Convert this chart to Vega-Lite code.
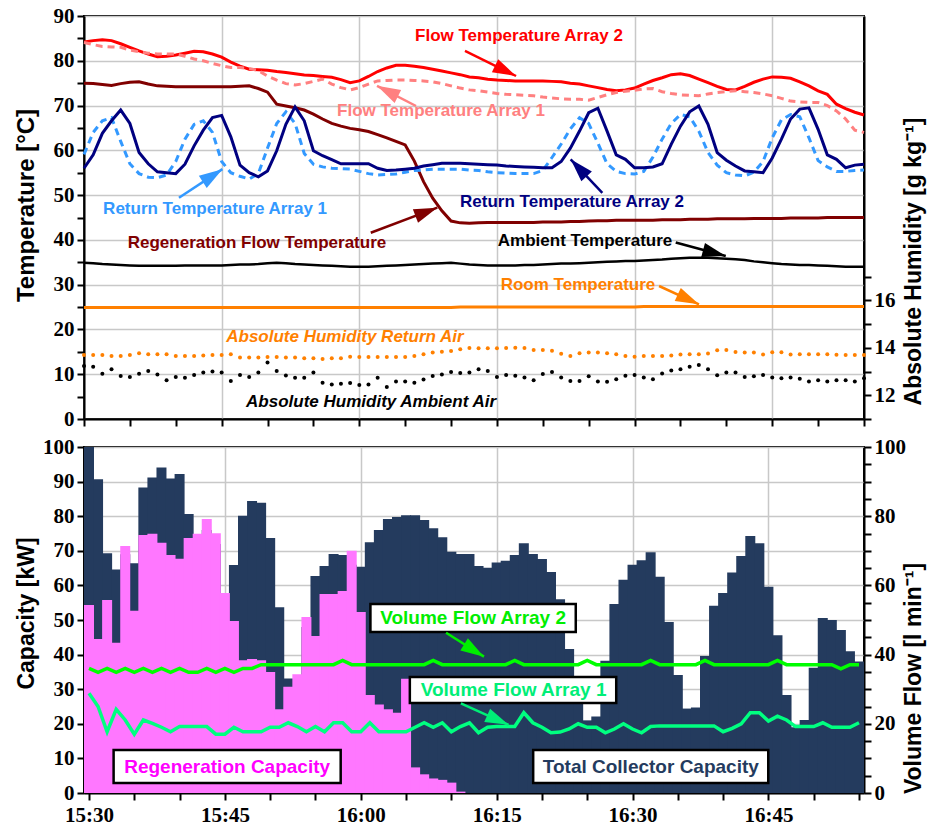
{
 "$schema": "https://vega.github.io/schema/vega-lite/v6.json",
 "padding": {"left": 13, "top": 4, "right": 2, "bottom": 2},
 "background": "white",
 "spacing": 5,
 "config": {
  "view": {"stroke": "black", "strokeWidth": 2},
  "font": "Liberation Sans",
  "axis": {
   "domainColor": "black", "domainWidth": 2,
   "tickColor": "black", "tickWidth": 2, "tickSize": 7,
   "labelFont": "Liberation Sans Narrow", "labelFontWeight": "bold", "labelFontSize": 21, "labelColor": "black", "labelPadding": 3,
   "titleFont": "Liberation Sans", "titleFontWeight": "bold", "titleFontSize": 23, "titleColor": "black",
   "gridColor": "#c8c8c8", "gridWidth": 1.5
  }
 },
 "datasets": {
  "d": [
   {"t":"2024-06-01T15:30:00","tc":100,"rc":54.3,"vf1":28.8,"vf2":36.0,"ft2":84.2,"ft1":84.1,"rft":75.0,"rt2":56.0,"rt1":59.1,"amb":34.9,"room":24.9,"ahr":13.70,"aha":13.24},
   {"t":"2024-06-01T15:31:00","tc":90.7,"rc":44.5,"vf1":25.0,"vf2":34.9,"ft2":84.5,"ft1":83.6,"rft":74.9,"rt2":59.0,"rt1":64.0,"amb":34.8,"room":24.9,"ahr":13.70,"aha":13.2},
   {"t":"2024-06-01T15:32:00","tc":69.3,"rc":55.8,"vf1":17.7,"vf2":36.0,"ft2":84.7,"ft1":83.2,"rft":74.7,"rt2":63.8,"rt1":66.6,"amb":34.6,"room":24.9,"ahr":13.70,"aha":12.91},
   {"t":"2024-06-01T15:33:00","tc":64.6,"rc":43.4,"vf1":24.2,"vf2":34.9,"ft2":84.5,"ft1":83.1,"rft":74.5,"rt2":66.6,"rt1":67.3,"amb":34.5,"room":24.9,"ahr":13.66,"aha":13.1},
   {"t":"2024-06-01T15:34:00","tc":69.0,"rc":71.4,"vf1":21.1,"vf2":36.0,"ft2":83.8,"ft1":83.0,"rft":74.9,"rt2":69.0,"rt1":62.0,"amb":34.4,"room":24.9,"ahr":13.66,"aha":12.81},
   {"t":"2024-06-01T15:35:00","tc":66.4,"rc":52.7,"vf1":17.0,"vf2":34.9,"ft2":83.0,"ft1":82.4,"rft":75.2,"rt2":66.0,"rt1":57.0,"amb":34.3,"room":24.9,"ahr":13.70,"aha":12.77},
   {"t":"2024-06-01T15:36:00","tc":88.3,"rc":74.6,"vf1":21.1,"vf2":36.0,"ft2":82.2,"ft1":82.0,"rft":75.3,"rt2":59.5,"rt1":54.8,"amb":34.2,"room":24.9,"ahr":13.77,"aha":12.91},
   {"t":"2024-06-01T15:37:00","tc":91.2,"rc":74.9,"vf1":20.1,"vf2":34.9,"ft2":81.5,"ft1":81.7,"rft":74.8,"rt2":57.0,"rt1":54.0,"amb":34.2,"room":24.9,"ahr":13.73,"aha":13.03},
   {"t":"2024-06-01T15:38:00","tc":94.1,"rc":72.3,"vf1":19.0,"vf2":36.0,"ft2":80.9,"ft1":81.5,"rft":74.4,"rt2":55.2,"rt1":53.9,"amb":34.2,"room":24.9,"ahr":13.73,"aha":12.88},
   {"t":"2024-06-01T15:39:00","tc":90.9,"rc":68.8,"vf1":17.7,"vf2":34.9,"ft2":81.0,"ft1":81.5,"rft":74.3,"rt2":55.0,"rt1":54.5,"amb":34.2,"room":24.9,"ahr":13.73,"aha":12.63},
   {"t":"2024-06-01T15:40:00","tc":92.2,"rc":67.7,"vf1":19.2,"vf2":36.0,"ft2":81.3,"ft1":81.5,"rft":74.2,"rt2":54.8,"rt1":57.5,"amb":34.2,"room":24.9,"ahr":13.66,"aha":12.77},
   {"t":"2024-06-01T15:41:00","tc":80.6,"rc":73.7,"vf1":19.2,"vf2":34.9,"ft2":81.7,"ft1":81.0,"rft":74.2,"rt2":56.9,"rt1":62.5,"amb":34.3,"room":24.9,"ahr":13.66,"aha":12.74},
   {"t":"2024-06-01T15:42:00","tc":72.0,"rc":74.9,"vf1":19.2,"vf2":34.9,"ft2":82.1,"ft1":80.4,"rft":74.2,"rt2":61.0,"rt1":65.8,"amb":34.3,"room":24.9,"ahr":13.66,"aha":12.86},
   {"t":"2024-06-01T15:43:00","tc":76.0,"rc":79.2,"vf1":19.2,"vf2":36.0,"ft2":82.0,"ft1":80.0,"rft":74.2,"rt2":64.5,"rt1":66.6,"amb":34.3,"room":24.9,"ahr":13.68,"aha":12.96},
   {"t":"2024-06-01T15:44:00","tc":72.0,"rc":75.1,"vf1":17.0,"vf2":34.9,"ft2":81.5,"ft1":79.4,"rft":74.2,"rt2":67.3,"rt1":64.0,"amb":34.3,"room":24.9,"ahr":13.70,"aha":13.0},
   {"t":"2024-06-01T15:45:00","tc":55.0,"rc":57.8,"vf1":17.0,"vf2":36.0,"ft2":80.8,"ft1":78.9,"rft":74.2,"rt2":67.8,"rt1":57.5,"amb":34.3,"room":24.9,"ahr":13.70,"aha":12.96},
   {"t":"2024-06-01T15:46:00","tc":65.9,"rc":49.7,"vf1":19.0,"vf2":34.9,"ft2":79.7,"ft1":78.5,"rft":74.2,"rt2":63.0,"rt1":55.0,"amb":34.4,"room":24.9,"ahr":13.73,"aha":12.6},
   {"t":"2024-06-01T15:47:00","tc":80.1,"rc":38.4,"vf1":17.7,"vf2":36.0,"ft2":78.8,"ft1":78.5,"rft":74.3,"rt2":56.7,"rt1":54.2,"amb":34.5,"room":24.9,"ahr":13.59,"aha":12.86},
   {"t":"2024-06-01T15:48:00","tc":84.4,"rc":38.7,"vf1":17.7,"vf2":36.0,"ft2":78.1,"ft1":78.3,"rft":74.4,"rt2":55.0,"rt1":53.6,"amb":34.5,"room":24.9,"ahr":13.59,"aha":12.77},
   {"t":"2024-06-01T15:49:00","tc":83.9,"rc":38.4,"vf1":17.7,"vf2":37.1,"ft2":78.0,"ft1":77.8,"rft":73.8,"rt2":54.1,"rt1":54.8,"amb":34.6,"room":24.9,"ahr":13.59,"aha":12.96},
   {"t":"2024-06-01T15:50:00","tc":73.7,"rc":35.0,"vf1":19.0,"vf2":37.1,"ft2":77.9,"ft1":76.6,"rft":73.0,"rt2":55.4,"rt1":60.5,"amb":34.8,"room":24.9,"ahr":13.62,"aha":13.38},
   {"t":"2024-06-01T15:51:00","tc":53.7,"rc":24.2,"vf1":19.0,"vf2":37.1,"ft2":77.6,"ft1":75.7,"rft":70.3,"rt2":59.9,"rt1":66.0,"amb":34.9,"room":24.9,"ahr":13.62,"aha":13.03},
   {"t":"2024-06-01T15:52:00","tc":33.1,"rc":30.7,"vf1":20.3,"vf2":37.1,"ft2":77.4,"ft1":74.9,"rft":69.9,"rt2":65.8,"rt1":68.6,"amb":34.8,"room":24.9,"ahr":13.59,"aha":12.84},
   {"t":"2024-06-01T15:53:00","tc":30.0,"rc":34.3,"vf1":19.2,"vf2":37.1,"ft2":77.1,"ft1":74.6,"rft":69.5,"rt2":69.7,"rt1":66.0,"amb":34.6,"room":24.9,"ahr":13.59,"aha":12.74},
   {"t":"2024-06-01T15:54:00","tc":48.0,"rc":50.9,"vf1":17.7,"vf2":37.1,"ft2":76.8,"ft1":74.9,"rft":69.0,"rt2":66.6,"rt1":59.3,"amb":34.5,"room":24.9,"ahr":13.56,"aha":12.74},
   {"t":"2024-06-01T15:55:00","tc":62.7,"rc":45.4,"vf1":19.2,"vf2":37.1,"ft2":76.7,"ft1":75.4,"rft":68.1,"rt2":59.9,"rt1":56.9,"amb":34.4,"room":24.9,"ahr":13.56,"aha":12.96},
   {"t":"2024-06-01T15:56:00","tc":65.6,"rc":57.5,"vf1":17.7,"vf2":37.1,"ft2":76.5,"ft1":75.9,"rft":67.0,"rt2":58.8,"rt1":56.3,"amb":34.3,"room":24.9,"ahr":13.53,"aha":12.53},
   {"t":"2024-06-01T15:57:00","tc":69.1,"rc":57.5,"vf1":20.3,"vf2":37.1,"ft2":76.3,"ft1":74.8,"rft":66.0,"rt2":57.9,"rt1":56.0,"amb":34.2,"room":24.9,"ahr":13.56,"aha":12.46},
   {"t":"2024-06-01T15:58:00","tc":68.8,"rc":58.4,"vf1":20.3,"vf2":38.3,"ft2":75.8,"ft1":74.0,"rft":65.4,"rt2":57.0,"rt1":55.9,"amb":34.1,"room":24.9,"ahr":13.56,"aha":12.49},
   {"t":"2024-06-01T15:59:00","tc":66.0,"rc":70.0,"vf1":17.7,"vf2":37.1,"ft2":75.1,"ft1":73.5,"rft":64.9,"rt2":57.0,"rt1":55.8,"amb":34.0,"room":24.9,"ahr":13.63,"aha":12.52},
   {"t":"2024-06-01T16:00:00","tc":65.4,"rc":52.3,"vf1":17.7,"vf2":37.1,"ft2":75.5,"ft1":74.0,"rft":64.6,"rt2":57.0,"rt1":55.3,"amb":34.0,"room":24.9,"ahr":13.62,"aha":12.43},
   {"t":"2024-06-01T16:01:00","tc":72.5,"rc":28.3,"vf1":20.3,"vf2":37.1,"ft2":76.5,"ft1":74.8,"rft":64.2,"rt2":57.0,"rt1":54.8,"amb":34.0,"room":24.9,"ahr":13.62,"aha":12.46},
   {"t":"2024-06-01T16:02:00","tc":76.0,"rc":25.6,"vf1":17.7,"vf2":37.1,"ft2":77.6,"ft1":75.5,"rft":63.5,"rt2":56.0,"rt1":54.5,"amb":34.1,"room":24.9,"ahr":13.62,"aha":12.74},
   {"t":"2024-06-01T16:03:00","tc":79.2,"rc":24.2,"vf1":17.7,"vf2":37.1,"ft2":78.4,"ft1":75.6,"rft":62.8,"rt2":55.5,"rt1":54.6,"amb":34.2,"room":24.9,"ahr":13.62,"aha":12.35},
   {"t":"2024-06-01T16:04:00","tc":79.8,"rc":23.2,"vf1":17.7,"vf2":37.1,"ft2":79.0,"ft1":75.7,"rft":62.0,"rt2":55.6,"rt1":54.7,"amb":34.3,"room":24.9,"ahr":13.62,"aha":12.58},
   {"t":"2024-06-01T16:05:00","tc":80.3,"rc":33.0,"vf1":17.7,"vf2":37.1,"ft2":79.0,"ft1":75.7,"rft":61.2,"rt2":55.8,"rt1":55.1,"amb":34.4,"room":24.9,"ahr":13.62,"aha":12.58},
   {"t":"2024-06-01T16:06:00","tc":80.3,"rc":7.4,"vf1":19.0,"vf2":37.1,"ft2":78.8,"ft1":75.6,"rft":57.6,"rt2":56.0,"rt1":55.5,"amb":34.5,"room":24.9,"ahr":13.66,"aha":12.53},
   {"t":"2024-06-01T16:07:00","tc":78.9,"rc":5.4,"vf1":20.3,"vf2":37.1,"ft2":78.5,"ft1":75.5,"rft":53.0,"rt2":56.5,"rt1":55.6,"amb":34.6,"room":24.9,"ahr":13.73,"aha":12.67},
   {"t":"2024-06-01T16:08:00","tc":76.5,"rc":4.2,"vf1":19.0,"vf2":38.3,"ft2":78.1,"ft1":75.3,"rft":49.3,"rt2":56.8,"rt1":55.8,"amb":34.7,"room":24.9,"ahr":13.80,"aha":12.81},
   {"t":"2024-06-01T16:09:00","tc":73.9,"rc":3.8,"vf1":20.3,"vf2":37.1,"ft2":77.7,"ft1":74.9,"rft":46.5,"rt2":57.1,"rt1":55.8,"amb":34.8,"room":24.9,"ahr":13.84,"aha":12.88},
   {"t":"2024-06-01T16:10:00","tc":69.7,"rc":3.0,"vf1":17.7,"vf2":37.1,"ft2":77.3,"ft1":74.4,"rft":44.2,"rt2":57.1,"rt1":55.8,"amb":34.9,"room":24.9,"ahr":13.87,"aha":12.98},
   {"t":"2024-06-01T16:11:00","tc":69.1,"rc":0.4,"vf1":19.2,"vf2":37.1,"ft2":76.9,"ft1":73.9,"rft":43.8,"rt2":57.1,"rt1":55.8,"amb":34.7,"room":25.0,"ahr":13.94,"aha":12.94},
   {"t":"2024-06-01T16:12:00","tc":69.1,"rc":0,"vf1":20.3,"vf2":37.1,"ft2":76.4,"ft1":73.5,"rft":43.7,"rt2":57.0,"rt1":55.6,"amb":34.5,"room":25.0,"ahr":14.0,"aha":12.96},
   {"t":"2024-06-01T16:13:00","tc":65.6,"rc":0,"vf1":17.4,"vf2":37.1,"ft2":76.2,"ft1":73.3,"rft":43.8,"rt2":56.9,"rt1":55.5,"amb":34.4,"room":25.0,"ahr":13.98,"aha":13.1},
   {"t":"2024-06-01T16:14:00","tc":65.1,"rc":0,"vf1":19.0,"vf2":37.1,"ft2":75.9,"ft1":73.0,"rft":43.9,"rt2":56.8,"rt1":55.2,"amb":34.3,"room":25.0,"ahr":13.98,"aha":13.03},
   {"t":"2024-06-01T16:15:00","tc":66.6,"rc":0,"vf1":19.2,"vf2":37.1,"ft2":75.7,"ft1":72.7,"rft":43.9,"rt2":56.7,"rt1":55.0,"amb":34.3,"room":25.0,"ahr":13.98,"aha":12.77},
   {"t":"2024-06-01T16:16:00","tc":67.1,"rc":0,"vf1":19.2,"vf2":37.1,"ft2":75.6,"ft1":72.5,"rft":43.9,"rt2":56.5,"rt1":54.9,"amb":34.3,"room":25.0,"ahr":14.0,"aha":12.86},
   {"t":"2024-06-01T16:17:00","tc":68.8,"rc":0,"vf1":19.2,"vf2":38.3,"ft2":75.5,"ft1":72.4,"rft":43.9,"rt2":56.4,"rt1":54.8,"amb":34.3,"room":25.0,"ahr":14.01,"aha":12.82},
   {"t":"2024-06-01T16:18:00","tc":72.2,"rc":0,"vf1":23.2,"vf2":37.1,"ft2":75.5,"ft1":72.3,"rft":43.9,"rt2":56.3,"rt1":54.8,"amb":34.4,"room":25.0,"ahr":14.0,"aha":12.75},
   {"t":"2024-06-01T16:19:00","tc":69.1,"rc":0,"vf1":20.3,"vf2":37.1,"ft2":75.5,"ft1":72.2,"rft":43.9,"rt2":56.2,"rt1":54.8,"amb":34.4,"room":25.0,"ahr":13.91,"aha":12.63},
   {"t":"2024-06-01T16:20:00","tc":67.6,"rc":0,"vf1":19.0,"vf2":37.1,"ft2":75.5,"ft1":71.9,"rft":44.0,"rt2":56.1,"rt1":55.5,"amb":34.5,"room":25.0,"ahr":13.91,"aha":12.9},
   {"t":"2024-06-01T16:21:00","tc":63.9,"rc":0,"vf1":17.4,"vf2":37.1,"ft2":75.4,"ft1":71.7,"rft":44.0,"rt2":56.1,"rt1":58.4,"amb":34.6,"room":25.0,"ahr":13.88,"aha":12.98},
   {"t":"2024-06-01T16:22:00","tc":56.0,"rc":0,"vf1":17.6,"vf2":37.1,"ft2":75.3,"ft1":71.5,"rft":44.0,"rt2":57.5,"rt1":61.4,"amb":34.7,"room":25.0,"ahr":13.75,"aha":12.75},
   {"t":"2024-06-01T16:23:00","tc":41.6,"rc":0,"vf1":18.5,"vf2":37.1,"ft2":75.0,"ft1":71.4,"rft":44.1,"rt2":60.5,"rt1":64.8,"amb":34.7,"room":25.0,"ahr":13.66,"aha":12.6},
   {"t":"2024-06-01T16:24:00","tc":26.0,"rc":0,"vf1":20.0,"vf2":37.1,"ft2":74.8,"ft1":71.4,"rft":44.1,"rt2":64.3,"rt1":67.3,"amb":34.8,"room":25.0,"ahr":13.77,"aha":12.6},
   {"t":"2024-06-01T16:25:00","tc":21.0,"rc":0,"vf1":19.0,"vf2":38.3,"ft2":74.4,"ft1":71.2,"rft":44.2,"rt2":68.4,"rt1":66.0,"amb":34.9,"room":25.0,"ahr":13.80,"aha":12.8},
   {"t":"2024-06-01T16:26:00","tc":22.1,"rc":0,"vf1":19.0,"vf2":37.1,"ft2":74.0,"ft1":71.8,"rft":44.3,"rt2":69.4,"rt1":61.6,"amb":35.0,"room":25.0,"ahr":13.80,"aha":12.58},
   {"t":"2024-06-01T16:27:00","tc":38.2,"rc":0,"vf1":17.4,"vf2":37.1,"ft2":73.6,"ft1":72.4,"rft":44.3,"rt2":64.3,"rt1":57.0,"amb":35.1,"room":25.0,"ahr":13.77,"aha":12.57},
   {"t":"2024-06-01T16:28:00","tc":54.6,"rc":0,"vf1":18.5,"vf2":37.1,"ft2":73.3,"ft1":72.9,"rft":44.4,"rt2":59.0,"rt1":55.3,"amb":35.2,"room":25.0,"ahr":13.73,"aha":12.68},
   {"t":"2024-06-01T16:29:00","tc":61.6,"rc":0,"vf1":20.0,"vf2":37.1,"ft2":73.5,"ft1":73.2,"rft":44.4,"rt2":58.0,"rt1":54.8,"amb":35.3,"room":25.0,"ahr":13.66,"aha":12.82},
   {"t":"2024-06-01T16:30:00","tc":66.0,"rc":0,"vf1":18.5,"vf2":37.1,"ft2":73.9,"ft1":73.4,"rft":44.4,"rt2":56.1,"rt1":54.7,"amb":35.3,"room":25.0,"ahr":13.63,"aha":12.86},
   {"t":"2024-06-01T16:31:00","tc":67.3,"rc":0,"vf1":17.4,"vf2":37.1,"ft2":74.8,"ft1":73.7,"rft":44.4,"rt2":56.1,"rt1":55.3,"amb":35.4,"room":25.1,"ahr":13.66,"aha":12.75},
   {"t":"2024-06-01T16:32:00","tc":69.6,"rc":0,"vf1":19.2,"vf2":38.3,"ft2":75.6,"ft1":73.8,"rft":44.4,"rt2":56.3,"rt1":58.5,"amb":35.5,"room":25.1,"ahr":13.66,"aha":12.68},
   {"t":"2024-06-01T16:33:00","tc":62.5,"rc":0,"vf1":19.4,"vf2":37.1,"ft2":76.2,"ft1":73.1,"rft":44.5,"rt2":57.0,"rt1":62.5,"amb":35.6,"room":25.1,"ahr":13.66,"aha":12.92},
   {"t":"2024-06-01T16:34:00","tc":49.4,"rc":0,"vf1":19.4,"vf2":37.1,"ft2":76.9,"ft1":72.7,"rft":44.5,"rt2":61.4,"rt1":66.0,"amb":35.8,"room":25.1,"ahr":13.68,"aha":13.05},
   {"t":"2024-06-01T16:35:00","tc":34.1,"rc":0,"vf1":19.4,"vf2":37.1,"ft2":77.1,"ft1":72.4,"rft":44.5,"rt2":65.4,"rt1":68.0,"amb":35.9,"room":25.1,"ahr":13.72,"aha":13.1},
   {"t":"2024-06-01T16:36:00","tc":24.4,"rc":0,"vf1":19.4,"vf2":37.1,"ft2":76.7,"ft1":72.3,"rft":44.6,"rt2":68.6,"rt1":67.5,"amb":36.0,"room":25.1,"ahr":13.73,"aha":13.2},
   {"t":"2024-06-01T16:37:00","tc":24.7,"rc":0,"vf1":19.4,"vf2":37.1,"ft2":75.9,"ft1":72.2,"rft":44.6,"rt2":69.9,"rt1":64.3,"amb":36.0,"room":25.1,"ahr":13.73,"aha":13.28},
   {"t":"2024-06-01T16:38:00","tc":39.6,"rc":0,"vf1":19.4,"vf2":38.3,"ft2":75.1,"ft1":72.6,"rft":44.6,"rt2":65.8,"rt1":59.5,"amb":36.0,"room":25.1,"ahr":13.76,"aha":13.1},
   {"t":"2024-06-01T16:39:00","tc":54.1,"rc":0,"vf1":19.4,"vf2":37.1,"ft2":74.3,"ft1":72.9,"rft":44.7,"rt2":59.5,"rt1":56.7,"amb":35.9,"room":25.1,"ahr":13.90,"aha":12.85},
   {"t":"2024-06-01T16:40:00","tc":57.8,"rc":0,"vf1":17.7,"vf2":37.1,"ft2":73.6,"ft1":73.1,"rft":44.7,"rt2":57.8,"rt1":55.0,"amb":35.8,"room":25.1,"ahr":13.91,"aha":12.96},
   {"t":"2024-06-01T16:41:00","tc":63.7,"rc":0,"vf1":18.7,"vf2":37.1,"ft2":73.5,"ft1":73.3,"rft":44.7,"rt2":56.5,"rt1":54.5,"amb":35.7,"room":25.1,"ahr":13.83,"aha":12.96},
   {"t":"2024-06-01T16:42:00","tc":68.5,"rc":0,"vf1":20.0,"vf2":37.1,"ft2":74.3,"ft1":73.1,"rft":44.7,"rt2":55.4,"rt1":54.3,"amb":35.5,"room":25.1,"ahr":13.80,"aha":12.77},
   {"t":"2024-06-01T16:43:00","tc":74.3,"rc":0,"vf1":23.2,"vf2":37.1,"ft2":75.2,"ft1":72.9,"rft":44.8,"rt2":55.2,"rt1":55.1,"amb":35.2,"room":25.1,"ahr":13.80,"aha":12.8},
   {"t":"2024-06-01T16:44:00","tc":72.2,"rc":0,"vf1":23.2,"vf2":37.1,"ft2":75.9,"ft1":72.6,"rft":44.8,"rt2":55.0,"rt1":57.5,"amb":35.0,"room":25.1,"ahr":13.72,"aha":12.86},
   {"t":"2024-06-01T16:45:00","tc":59.6,"rc":0,"vf1":20.8,"vf2":37.1,"ft2":76.4,"ft1":72.2,"rft":44.8,"rt2":58.3,"rt1":62.8,"amb":34.8,"room":25.1,"ahr":13.82,"aha":12.75},
   {"t":"2024-06-01T16:46:00","tc":45.6,"rc":0,"vf1":22.2,"vf2":38.3,"ft2":76.3,"ft1":71.6,"rft":44.8,"rt2":62.5,"rt1":66.8,"amb":34.6,"room":25.1,"ahr":13.82,"aha":12.72},
   {"t":"2024-06-01T16:47:00","tc":28.3,"rc":0,"vf1":21.1,"vf2":37.1,"ft2":76.1,"ft1":71.0,"rft":44.9,"rt2":67.0,"rt1":68.0,"amb":34.5,"room":25.1,"ahr":13.72,"aha":12.75},
   {"t":"2024-06-01T16:48:00","tc":19.0,"rc":0,"vf1":19.2,"vf2":37.1,"ft2":75.3,"ft1":70.8,"rft":44.9,"rt2":69.2,"rt1":67.5,"amb":34.4,"room":25.1,"ahr":13.73,"aha":12.7},
   {"t":"2024-06-01T16:49:00","tc":21.1,"rc":0,"vf1":19.2,"vf2":37.1,"ft2":74.4,"ft1":70.7,"rft":44.9,"rt2":69.5,"rt1":62.8,"amb":34.4,"room":25.1,"ahr":13.73,"aha":12.58},
   {"t":"2024-06-01T16:50:00","tc":36.2,"rc":0,"vf1":19.2,"vf2":37.1,"ft2":73.3,"ft1":70.7,"rft":44.9,"rt2":64.7,"rt1":57.7,"amb":34.3,"room":25.1,"ahr":13.73,"aha":12.63},
   {"t":"2024-06-01T16:51:00","tc":50.6,"rc":0,"vf1":20.3,"vf2":37.1,"ft2":72.5,"ft1":70.0,"rft":45.0,"rt2":59.0,"rt1":56.3,"amb":34.2,"room":25.1,"ahr":13.73,"aha":12.58},
   {"t":"2024-06-01T16:52:00","tc":50.0,"rc":0,"vf1":19.0,"vf2":37.1,"ft2":70.3,"ft1":68.8,"rft":45.0,"rt2":58.0,"rt1":55.3,"amb":34.1,"room":25.1,"ahr":13.71,"aha":12.63},
   {"t":"2024-06-01T16:53:00","tc":47.1,"rc":0,"vf1":19.0,"vf2":35.9,"ft2":69.3,"ft1":67.0,"rft":45.0,"rt2":56.1,"rt1":55.3,"amb":34.0,"room":25.1,"ahr":13.70,"aha":12.63},
   {"t":"2024-06-01T16:54:00","tc":41.0,"rc":0,"vf1":19.0,"vf2":37.1,"ft2":68.5,"ft1":64.5,"rft":45.0,"rt2":56.7,"rt1":55.5,"amb":34.0,"room":25.1,"ahr":13.70,"aha":12.58},
   {"t":"2024-06-01T16:55:00","tc":38.0,"rc":0,"vf1":20.3,"vf2":37.1,"ft2":67.9,"ft1":64.0,"rft":45.0,"rt2":56.9,"rt1":55.6,"amb":34.0,"room":25.1,"ahr":13.70,"aha":12.72}
  ],
  "arrowsTop": [
   {"id":"ft2","t0":"2024-06-01T16:11:31","v0":82.2,"t1":"2024-06-01T16:17:05","v1":76.6},
   {"id":"ft1","t0":"2024-06-01T16:06:11","v0":69.9,"t1":"2024-06-01T16:01:56","v1":74.4},
   {"id":"rt1","t0":"2024-06-01T15:40:21","v0":49.4,"t1":"2024-06-01T15:45:05","v1":55.8},
   {"id":"rt2","t0":"2024-06-01T16:26:29","v0":50.5,"t1":"2024-06-01T16:23:02","v1":58.0},
   {"id":"rft","t0":"2024-06-01T16:01:15","v0":41.6,"t1":"2024-06-01T16:08:30","v1":47.2},
   {"id":"amb","t0":"2024-06-01T16:34:29","v0":39.4,"t1":"2024-06-01T16:39:56","v1":36.4},
   {"id":"room","t0":"2024-06-01T16:32:40","v0":29.7,"t1":"2024-06-01T16:37:01","v1":25.6}
  ],
  "arrowsBottom": [
   {"id":"vf2","t0":"2024-06-01T16:09:25","v0":46.3,"t1":"2024-06-01T16:13:36","v1":39.4},
   {"id":"vf1","t0":"2024-06-01T16:11:03","v0":25.9,"t1":"2024-06-01T16:16:19","v1":19.7}
  ],
  "labelsTop": [
   {"id":"ft2","text":"Flow Temperature Array 2","t":"2024-06-01T16:17:24","v":85.5},
   {"id":"ft1","text":"Flow Temperature Array 1","t":"2024-06-01T16:08:54","v":68.8},
   {"id":"rt1","text":"Return Temperature Array 1","t":"2024-06-01T15:44:17","v":46.9},
   {"id":"rt2","text":"Return Temperature Array 2","t":"2024-06-01T16:23:11","v":48.5},
   {"id":"rft","text":"Regeneration Flow Temperature","t":"2024-06-01T15:48:51","v":39.3},
   {"id":"amb","text":"Ambient Temperature","t":"2024-06-01T16:24:36","v":39.7},
   {"id":"room","text":"Room Temperature","t":"2024-06-01T16:23:50","v":29.9}
  ],
  "labelsItalic": [
   {"id":"ahr","text":"Absolute Humidity Return Air","t":"2024-06-01T15:58:26","v":18.3},
   {"id":"aha","text":"Absolute Humidity Ambient Air","t":"2024-06-01T16:01:17","v":3.8}
  ],
  "labelsBottom": [
   {"id":"vf2","text":"Volume Flow Array 2","t":"2024-06-01T16:12:24","v":50.6,"t0":"2024-06-01T16:01:04","t1":"2024-06-01T16:23:44","v0":46.5,"v1":54.6},
   {"id":"vf1","text":"Volume Flow Array 1","t":"2024-06-01T16:16:52","v":29.8,"t0":"2024-06-01T16:05:25","t1":"2024-06-01T16:28:12","v0":26.0,"v1":33.5},
   {"id":"rc","text":"Regeneration Capacity","t":"2024-06-01T15:45:15","v":7.5,"t0":"2024-06-01T15:32:43","t1":"2024-06-01T15:57:47","v0":2.9,"v1":12.4},
   {"id":"tc","text":"Total Collector Capacity","t":"2024-06-01T16:32:01","v":7.5,"t0":"2024-06-01T16:19:02","t1":"2024-06-01T16:44:59","v0":2.9,"v1":12.4}
  ]
 },
 "vconcat": [
  {
   "width": 780, "height": 403,
   "resolve": {"scale": {"y": "independent"}, "axis": {"y": "independent"}},
   "layer": [
    {"data": {"name": "d"}, "mark": {"type": "line", "color": "#000000", "strokeWidth": 2.5},
     "encoding": {
      "x": {"field": "t", "type": "temporal", "title": null, "scale": {"nice": false},
            "axis": {"labels": false, "tickCount": 18,
                     "gridOpacity": {"condition": {"test": "(+timeFormat(datum.value, '%M')) % 15 === 0", "value": 1}, "value": 0}}},
      "y": {"field": "amb", "type": "quantitative", "title": "Temperature [°C]",
            "scale": {"domain": [0, 90], "nice": false},
            "axis": {"values": [0,5,10,15,20,25,30,35,40,45,50,55,60,65,70,75,80,85,90],
                     "labelExpr": "datum.value % 10 === 0 ? datum.label : ''",
                     "gridOpacity": {"condition": {"test": "datum.value % 10 === 0", "value": 1}, "value": 0},
                     "titleFontSize": 24, "titleX": -51, "titleY": 189, "titleAlign": "center", "titleBaseline": "alphabetic"}}
     }},
    {"data": {"name": "d"}, "mark": {"type": "line", "color": "#ff8000", "strokeWidth": 3},
     "encoding": {"x": {"field": "t", "type": "temporal", "title": null}, "y": {"field": "room", "type": "quantitative", "scale": {"domain": [0, 90], "nice": false}, "axis": null}}},
    {"data": {"name": "d"}, "mark": {"type": "line", "color": "#800000", "strokeWidth": 3},
     "encoding": {"x": {"field": "t", "type": "temporal", "title": null}, "y": {"field": "rft", "type": "quantitative", "scale": {"domain": [0, 90], "nice": false}, "axis": null}}},
    {"data": {"name": "d"}, "mark": {"type": "line", "color": "#ff0000", "strokeWidth": 3},
     "encoding": {"x": {"field": "t", "type": "temporal", "title": null}, "y": {"field": "ft2", "type": "quantitative", "scale": {"domain": [0, 90], "nice": false}, "axis": null}}},
    {"data": {"name": "d"}, "mark": {"type": "line", "color": "#ff8080", "strokeWidth": 3, "strokeDash": [7, 5]},
     "encoding": {"x": {"field": "t", "type": "temporal", "title": null}, "y": {"field": "ft1", "type": "quantitative", "scale": {"domain": [0, 90], "nice": false}, "axis": null}}},
    {"data": {"name": "d"}, "mark": {"type": "line", "color": "#3399ff", "strokeWidth": 3, "strokeDash": [7, 5]},
     "encoding": {"x": {"field": "t", "type": "temporal", "title": null}, "y": {"field": "rt1", "type": "quantitative", "scale": {"domain": [0, 90], "nice": false}, "axis": null}}},
    {"data": {"name": "d"}, "mark": {"type": "line", "color": "#000080", "strokeWidth": 3},
     "encoding": {"x": {"field": "t", "type": "temporal", "title": null}, "y": {"field": "rt2", "type": "quantitative", "scale": {"domain": [0, 90], "nice": false}, "axis": null}}},
    {"data": {"name": "d"}, "mark": {"type": "circle", "color": "#ff8000", "size": 16, "opacity": 1},
     "encoding": {"x": {"field": "t", "type": "temporal", "title": null},
                  "y": {"field": "ahr", "type": "quantitative", "title": "Absolute Humidity [g kg⁻¹]",
                        "scale": {"domain": [11, 28], "nice": false},
                        "axis": {"orient": "right", "values": [11, 12, 13, 14, 15, 16, 17], "grid": false,
                                 "labelExpr": "datum.value % 2 === 0 ? datum.label : ''",
                                 "titleAngle": 270, "titleX": 56, "titleY": 245, "titleAlign": "center", "titleBaseline": "alphabetic"}}}},
    {"data": {"name": "d"}, "mark": {"type": "circle", "color": "#000000", "size": 16, "opacity": 1},
     "encoding": {"x": {"field": "t", "type": "temporal", "title": null},
                  "y": {"field": "aha", "type": "quantitative", "scale": {"domain": [11, 28], "nice": false}, "axis": null}}},
    {"data": {"name": "arrowsTop"}, "mark": {"type": "rule", "strokeWidth": 2.5},
     "encoding": {"x": {"field": "t0", "type": "temporal", "title": null}, "x2": {"field": "t1"},
                  "y": {"field": "v0", "type": "quantitative", "scale": {"domain": [0, 90], "nice": false}, "axis": null}, "y2": {"field": "v1"},
                  "color": {"field": "id", "type": "nominal", "legend": null, "scale": {"domain": ["ft2","ft1","rt1","rt2","rft","amb","room","ahr","aha","vf2","vf1","rc","tc"], "range": ["#ff0000","#ff8080","#3399ff","#000080","#800000","#000000","#ff8000","#ff8000","#000000","#00ee00","#00ee77","#ff00ff","#243b5e"]}}}},
    {"data": {"name": "arrowsTop"}, "transform": [{"filter": "datum.id === 'ft2'"}], "mark": {"type": "point", "shape": "M0,0L0.8,2.6L-0.8,2.6Z", "size": 324, "filled": true, "opacity": 1, "angle": 116, "color": "#ff0000"},
     "encoding": {"x": {"field": "t1", "type": "temporal", "title": null}, "y": {"field": "v1", "type": "quantitative", "scale": {"domain": [0, 90], "nice": false}, "axis": null}}},
    {"data": {"name": "arrowsTop"}, "transform": [{"filter": "datum.id === 'ft1'"}], "mark": {"type": "point", "shape": "M0,0L0.8,2.6L-0.8,2.6Z", "size": 324, "filled": true, "opacity": 1, "angle": 297, "color": "#ff8080"},
     "encoding": {"x": {"field": "t1", "type": "temporal", "title": null}, "y": {"field": "v1", "type": "quantitative", "scale": {"domain": [0, 90], "nice": false}, "axis": null}}},
    {"data": {"name": "arrowsTop"}, "transform": [{"filter": "datum.id === 'rt1'"}], "mark": {"type": "point", "shape": "M0,0L0.8,2.6L-0.8,2.6Z", "size": 324, "filled": true, "opacity": 1, "angle": 57, "color": "#3399ff"},
     "encoding": {"x": {"field": "t1", "type": "temporal", "title": null}, "y": {"field": "v1", "type": "quantitative", "scale": {"domain": [0, 90], "nice": false}, "axis": null}}},
    {"data": {"name": "arrowsTop"}, "transform": [{"filter": "datum.id === 'rt2'"}], "mark": {"type": "point", "shape": "M0,0L0.8,2.6L-0.8,2.6Z", "size": 324, "filled": true, "opacity": 1, "angle": 317, "color": "#000080"},
     "encoding": {"x": {"field": "t1", "type": "temporal", "title": null}, "y": {"field": "v1", "type": "quantitative", "scale": {"domain": [0, 90], "nice": false}, "axis": null}}},
    {"data": {"name": "arrowsTop"}, "transform": [{"filter": "datum.id === 'rft'"}], "mark": {"type": "point", "shape": "M0,0L0.8,2.6L-0.8,2.6Z", "size": 324, "filled": true, "opacity": 1, "angle": 69, "color": "#800000"},
     "encoding": {"x": {"field": "t1", "type": "temporal", "title": null}, "y": {"field": "v1", "type": "quantitative", "scale": {"domain": [0, 90], "nice": false}, "axis": null}}},
    {"data": {"name": "arrowsTop"}, "transform": [{"filter": "datum.id === 'amb'"}], "mark": {"type": "point", "shape": "M0,0L0.8,2.6L-0.8,2.6Z", "size": 324, "filled": true, "opacity": 1, "angle": 105, "color": "#000000"},
     "encoding": {"x": {"field": "t1", "type": "temporal", "title": null}, "y": {"field": "v1", "type": "quantitative", "scale": {"domain": [0, 90], "nice": false}, "axis": null}}},
    {"data": {"name": "arrowsTop"}, "transform": [{"filter": "datum.id === 'room'"}], "mark": {"type": "point", "shape": "M0,0L0.8,2.6L-0.8,2.6Z", "size": 324, "filled": true, "opacity": 1, "angle": 115, "color": "#ff8000"},
     "encoding": {"x": {"field": "t1", "type": "temporal", "title": null}, "y": {"field": "v1", "type": "quantitative", "scale": {"domain": [0, 90], "nice": false}, "axis": null}}},
    {"data": {"name": "labelsTop"}, "mark": {"type": "text", "fontSize": 17, "fontWeight": "bold", "font": "Liberation Sans", "align": "center", "baseline": "middle"},
     "encoding": {"x": {"field": "t", "type": "temporal", "title": null}, "y": {"field": "v", "type": "quantitative", "scale": {"domain": [0, 90], "nice": false}, "axis": null},
                  "text": {"field": "text", "type": "nominal"},
                  "color": {"field": "id", "type": "nominal", "legend": null, "scale": {"domain": ["ft2","ft1","rt1","rt2","rft","amb","room","ahr","aha","vf2","vf1","rc","tc"], "range": ["#ff0000","#ff8080","#3399ff","#000080","#800000","#000000","#ff8000","#ff8000","#000000","#00ee00","#00ee77","#ff00ff","#243b5e"]}}}},
    {"data": {"name": "labelsItalic"}, "mark": {"type": "text", "fontSize": 17, "fontWeight": "bold", "fontStyle": "italic", "font": "Liberation Sans", "align": "center", "baseline": "middle"},
     "encoding": {"x": {"field": "t", "type": "temporal", "title": null}, "y": {"field": "v", "type": "quantitative", "scale": {"domain": [0, 90], "nice": false}, "axis": null},
                  "text": {"field": "text", "type": "nominal"},
                  "color": {"field": "id", "type": "nominal", "legend": null, "scale": {"domain": ["ft2","ft1","rt1","rt2","rft","amb","room","ahr","aha","vf2","vf1","rc","tc"], "range": ["#ff0000","#ff8080","#3399ff","#000080","#800000","#000000","#ff8000","#ff8000","#000000","#00ee00","#00ee77","#ff00ff","#243b5e"]}}}}
   ]
  },
  {
   "width": 780, "height": 346,
   "resolve": {"axis": {"y": "independent"}},
   "layer": [
    {"data": {"name": "d"}, "mark": {"type": "bar", "color": "#243b5e", "width": 10, "clip": true},
     "encoding": {
      "x": {"field": "t", "type": "temporal", "title": null, "scale": {"nice": false},
            "axis": {"tickCount": 18, "labelPadding": 4,
                     "labelExpr": "(+timeFormat(datum.value, '%M')) % 15 === 0 ? timeFormat(datum.value, '%H:%M') : ''",
                     "gridOpacity": {"condition": {"test": "(+timeFormat(datum.value, '%M')) % 15 === 0", "value": 1}, "value": 0}}},
      "y": {"field": "tc", "type": "quantitative", "title": "Capacity [kW]",
            "scale": {"domain": [0, 100], "nice": false},
            "axis": {"values": [0,10,20,30,40,50,60,70,80,90,100], "titleX": -51, "titleY": 166, "titleAlign": "center", "titleBaseline": "alphabetic"}}
     }},
    {"data": {"name": "d"}, "mark": {"type": "bar", "color": "#ff77ff", "width": 10, "clip": true},
     "encoding": {"x": {"field": "t", "type": "temporal", "title": null}, "y": {"field": "rc", "type": "quantitative", "axis": null}}},
    {"data": {"name": "d"}, "mark": {"type": "line", "color": "#00ff00", "strokeWidth": 3.5},
     "encoding": {"x": {"field": "t", "type": "temporal", "title": null},
                  "y": {"field": "vf2", "type": "quantitative", "title": "Volume Flow [l min⁻¹]",
                        "axis": {"orient": "right", "values": [0,5,10,15,20,25,30,35,40,45,50,55,60,65,70,75,80,85,90,95,100], "grid": false,
                                 "labelExpr": "datum.value % 20 === 0 ? datum.label : ''",
                                 "titleAngle": 270, "titleX": 56, "titleY": 231, "titleAlign": "center", "titleBaseline": "alphabetic"}}}},
    {"data": {"name": "d"}, "mark": {"type": "line", "color": "#00ff80", "strokeWidth": 3.5},
     "encoding": {"x": {"field": "t", "type": "temporal", "title": null},
                  "y": {"field": "vf1", "type": "quantitative", "axis": null}}},
    {"data": {"name": "labelsBottom"}, "mark": {"type": "rect", "fill": "white", "stroke": "black", "strokeWidth": 2.5},
     "encoding": {"x": {"field": "t0", "type": "temporal", "title": null}, "x2": {"field": "t1"},
                  "y": {"field": "v0", "type": "quantitative", "axis": null}, "y2": {"field": "v1"}}},
    {"data": {"name": "labelsBottom"}, "mark": {"type": "text", "fontSize": 19, "fontWeight": "bold", "font": "Liberation Sans", "align": "center", "baseline": "middle"},
     "encoding": {"x": {"field": "t", "type": "temporal", "title": null}, "y": {"field": "v", "type": "quantitative", "axis": null},
                  "text": {"field": "text", "type": "nominal"},
                  "color": {"field": "id", "type": "nominal", "legend": null, "scale": {"domain": ["ft2","ft1","rt1","rt2","rft","amb","room","ahr","aha","vf2","vf1","rc","tc"], "range": ["#ff0000","#ff8080","#3399ff","#000080","#800000","#000000","#ff8000","#ff8000","#000000","#00ee00","#00ee77","#ff00ff","#243b5e"]}}}},
    {"data": {"name": "arrowsBottom"}, "mark": {"type": "rule", "strokeWidth": 2.5},
     "encoding": {"x": {"field": "t0", "type": "temporal", "title": null}, "x2": {"field": "t1"},
                  "y": {"field": "v0", "type": "quantitative", "axis": null}, "y2": {"field": "v1"},
                  "color": {"field": "id", "type": "nominal", "legend": null, "scale": {"domain": ["ft2","ft1","rt1","rt2","rft","amb","room","ahr","aha","vf2","vf1","rc","tc"], "range": ["#ff0000","#ff8080","#3399ff","#000080","#800000","#000000","#ff8000","#ff8000","#000000","#00ee00","#00ee77","#ff00ff","#243b5e"]}}}},
    {"data": {"name": "arrowsBottom"}, "transform": [{"filter": "datum.id === 'vf2'"}], "mark": {"type": "point", "shape": "M0,0L0.8,2.6L-0.8,2.6Z", "size": 324, "filled": true, "opacity": 1, "angle": 122, "color": "#00ee00"},
     "encoding": {"x": {"field": "t1", "type": "temporal", "title": null}, "y": {"field": "v1", "type": "quantitative", "axis": null}}},
    {"data": {"name": "arrowsBottom"}, "transform": [{"filter": "datum.id === 'vf1'"}], "mark": {"type": "point", "shape": "M0,0L0.8,2.6L-0.8,2.6Z", "size": 324, "filled": true, "opacity": 1, "angle": 114, "color": "#00ee77"},
     "encoding": {"x": {"field": "t1", "type": "temporal", "title": null}, "y": {"field": "v1", "type": "quantitative", "axis": null}}}
   ]
  }
 ]
}
